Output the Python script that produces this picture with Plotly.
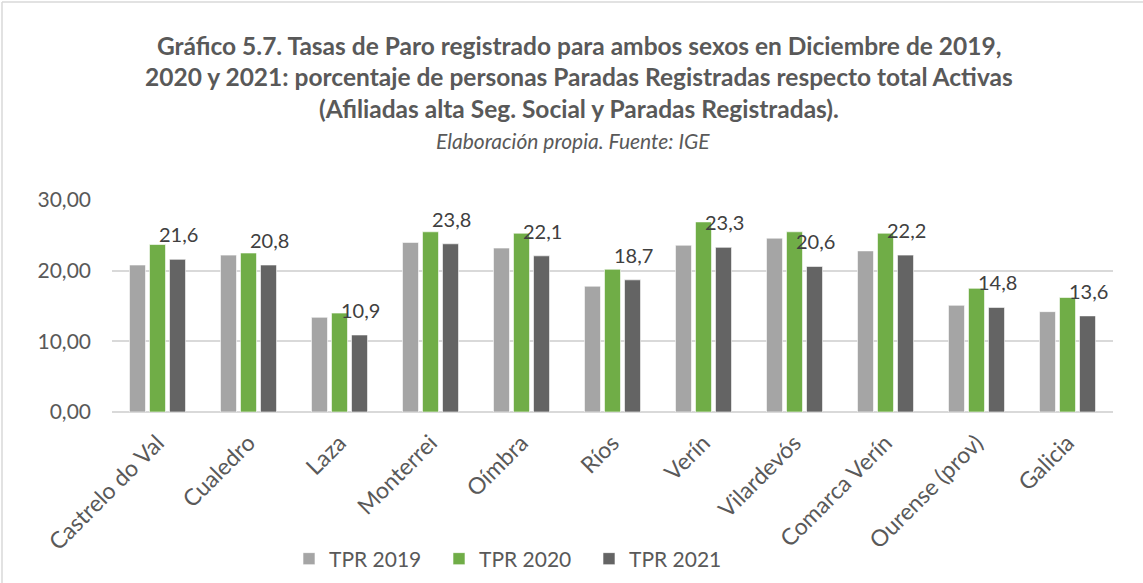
import plotly.graph_objects as go

# Municipalities / areas on the x axis
categories = ["Castrelo do Val", "Cualedro", "Laza", "Monterrei", "Oímbra", "Ríos",
              "Verín", "Vilardevós", "Comarca Verín", "Ourense (prov)", "Galicia"]

# Registered unemployment rate (%) in December of each year
tpr_2019 = [20.8, 22.2, 13.4, 24.0, 23.2, 17.8, 23.6, 24.6, 22.8, 15.1, 14.2]
tpr_2020 = [23.7, 22.5, 14.0, 25.5, 25.3, 20.2, 26.9, 25.5, 25.3, 17.5, 16.2]
tpr_2021 = [21.6, 20.8, 10.9, 23.8, 22.1, 18.7, 23.3, 20.6, 22.2, 14.8, 13.6]

series_names = ["TPR 2019", "TPR 2020", "TPR 2021"]
series_colors = ["#A5A5A5", "#70AD47", "#646464"]

y_ticks = [0, 10, 20, 30]

FONT = "Lato"
TXT = "#595959"

W, H = 1143, 583
plot_left, plot_right, plot_top, plot_bottom = 112, 1113, 200, 412
pw, ph = plot_right - plot_left, plot_bottom - plot_top


def px_to_paper(xpx, ypx):
    """Convert page pixel coordinates to plot-area paper coordinates."""
    return (xpx - plot_left) / pw, (plot_bottom - ypx) / ph


fig = go.Figure()
for name, vals, col in zip(series_names, [tpr_2019, tpr_2020, tpr_2021], series_colors):
    fig.add_trace(go.Bar(
        x=categories, y=vals, name=name,
        marker=dict(color=col, line=dict(color="white", width=0.6)),
    ))

# Value labels for the 2021 series, placed over the third bar of each group
annotations = []
for cat, v in zip(categories, tpr_2021):
    annotations.append(dict(
        x=cat, y=v, xref="x", yref="y",
        text=f"{v:.1f}".replace(".", ","),
        showarrow=False, xshift=21, yshift=25,
        font=dict(family=FONT, size=20, color="#404040"),
    ))

# Title block
title_lines = [
    "Gráfico 5.7. Tasas de Paro registrado para ambos sexos en Diciembre de 2019,",
    "2020 y 2021: porcentaje de personas Paradas Registradas respecto total Activas",
    "(Afiliadas alta Seg. Social y Paradas Registradas).",
]
title_y_px = [45, 77, 109]
for line, ypx in zip(title_lines, title_y_px):
    xp, yp = px_to_paper(579, ypx)
    annotations.append(dict(
        x=xp, y=yp, xref="paper", yref="paper",
        text=f"<b>{line}</b>", showarrow=False, xanchor="center", yanchor="middle",
        font=dict(family=FONT, size=24.5, color=TXT),
    ))
xp, yp = px_to_paper(573, 140)
annotations.append(dict(
    x=xp, y=yp, xref="paper", yref="paper",
    text="<i>Elaboración propia. Fuente: IGE</i>", showarrow=False,
    xanchor="center", yanchor="middle",
    font=dict(family=FONT, size=21, color=TXT),
))

lx, ly = px_to_paper(289, 559)
bx0, by0 = px_to_paper(2, 2)
bx1, by1 = px_to_paper(W + 10, H + 10)

fig.update_layout(
    width=W, height=H,
    margin=dict(l=plot_left, r=W - plot_right, t=plot_top, b=H - plot_bottom,
                autoexpand=False),
    paper_bgcolor="white", plot_bgcolor="white",
    separators=",.",
    barmode="group", bargap=0.34, bargroupgap=0.2,
    font=dict(family=FONT, color=TXT),
    annotations=annotations,
    showlegend=True,
    legend=dict(
        orientation="h", x=lx, xanchor="left", y=ly, yanchor="middle",
        font=dict(family=FONT, size=21, color=TXT),
        entrywidth=105, entrywidthmode="pixels",
        itemclick=False,
    ),
    shapes=[
        # chart-area border (top and left edges)
        dict(type="line", xref="paper", yref="paper",
             x0=bx0, x1=bx1, y0=by0, y1=by0,
             line=dict(color="#D9D9D9", width=1.5)),
        dict(type="line", xref="paper", yref="paper",
             x0=bx0, x1=bx0, y0=by0, y1=by1,
             line=dict(color="#D9D9D9", width=1.5)),
    ],
)

fig.update_xaxes(
    tickangle=-45, tickfont=dict(family=FONT, size=23, color=TXT),
    showgrid=False, showline=False, ticks="", ticklabelstandoff=12,
    automargin=False,
)
fig.update_yaxes(
    range=[0, 30], tickvals=y_ticks, tickformat=".2f",
    tickfont=dict(family=FONT, size=21, color=TXT),
    showgrid=True, gridcolor="#D9D9D9", gridwidth=1.5,
    zeroline=True, zerolinecolor="#D9D9D9", zerolinewidth=1.5,
    showline=False, ticks="", ticklabelstandoff=20, automargin=False,
)

fig.write_html("out.html")
